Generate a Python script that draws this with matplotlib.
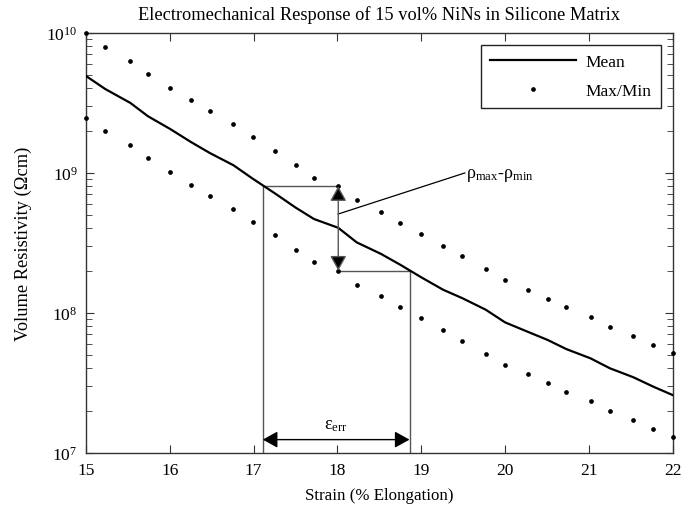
import matplotlib
matplotlib.use("Agg")
import matplotlib.pyplot as plt
from matplotlib.lines import Line2D
from matplotlib.ticker import LogLocator, NullLocator, FixedLocator, NullFormatter

plt.rcParams['font.family'] = ['Liberation Serif', 'DejaVu Serif']
plt.rcParams['mathtext.fontset'] = 'custom'
plt.rcParams['mathtext.rm'] = 'Liberation Serif'
plt.rcParams['mathtext.it'] = 'Liberation Serif:italic'
plt.rcParams['mathtext.bf'] = 'Liberation Serif:bold'

# ---- data ----
strain = [15.00, 15.23, 15.53, 15.74, 16.00, 16.25, 16.48, 16.76, 16.99, 17.26,
          17.50, 17.72, 18.01, 18.23, 18.52, 18.75, 19.00, 19.26, 19.49, 19.77,
          20.00, 20.27, 20.51, 20.73, 21.02, 21.25, 21.53, 21.77, 22.00]
rho_max = [9.9e9, 7.91e9, 6.31e9, 5.07e9, 4.05e9, 3.29e9, 2.75e9, 2.23e9, 1.79e9, 1.43e9,
           1.13e9, 9.21e8, 8.00e8, 6.35e8, 5.24e8, 4.37e8, 3.65e8, 3.01e8, 2.54e8, 2.04e8,
           1.70e8, 1.46e8, 1.26e8, 1.09e8, 9.31e7, 7.94e7, 6.85e7, 5.91e7, 5.18e7]
rho_min = [2.46e9, 1.98e9, 1.57e9, 1.27e9, 1.01e9, 8.20e8, 6.85e8, 5.53e8, 4.47e8, 3.57e8,
           2.82e8, 2.30e8, 2.00e8, 1.58e8, 1.32e8, 1.09e8, 9.12e7, 7.57e7, 6.33e7, 5.09e7,
           4.25e7, 3.63e7, 3.15e7, 2.73e7, 2.33e7, 1.99e7, 1.70e7, 1.48e7, 1.30e7]
rho_mean = [4.91e9, 3.96e9, 3.15e9, 2.53e9, 2.06e9, 1.66e9, 1.38e9, 1.13e9, 9.06e8, 7.08e8,
            5.64e8, 4.67e8, 4.04e8, 3.18e8, 2.63e8, 2.20e8, 1.79e8, 1.46e8, 1.27e8, 1.05e8,
            8.53e7, 7.31e7, 6.38e7, 5.50e7, 4.72e7, 4.01e7, 3.46e7, 2.96e7, 2.58e7]
x_ticks = [15, 16, 17, 18, 19, 20, 21, 22]

# annotation values
ref_idx = 12                 # strain = 18
eps_lo, eps_hi = 17.11, 18.86
eps_arrow_y = 1.24e7
eps_text_y = 1.58e7
rho_text_pos = (19.535, 9.3e8)
rho_line_start = 5.07e8
rho_line_end = (19.52, 9.96e8)

FS = 12.5
GRAY = '#555555'

fig = plt.figure(figsize=(6.95, 5.10), dpi=100)
ax = fig.add_axes([0.1237, 0.1104, 0.8442, 0.8235])

ax.plot(strain, rho_mean, color='black', lw=1.6, label='Mean', zorder=3)
ax.plot(strain, rho_max, 'o', color='black', ms=3.4, mec='none', zorder=3, clip_on=False)
ax.plot(strain, rho_min, 'o', color='black', ms=3.4, mec='none', zorder=3, clip_on=False)

ax.set_yscale('log')
ax.set_xlim(15, 22)
ax.set_ylim(1e7, 1e10)

# annotation lines
xs = strain[ref_idx]
ys_hi = rho_max[ref_idx]
ys_lo = rho_min[ref_idx]
ax.plot([eps_lo, xs], [ys_hi, ys_hi], color=GRAY, lw=1.0, zorder=2)
ax.plot([eps_lo, eps_lo], [ys_hi, 1e7], color=GRAY, lw=1.0, zorder=2)
ax.plot([xs, eps_hi], [ys_lo, ys_lo], color=GRAY, lw=1.0, zorder=2)
ax.plot([eps_hi, eps_hi], [ys_lo, 1e7], color=GRAY, lw=1.0, zorder=2)

arrow_style = '<|-|>,head_length=0.9,head_width=0.5'
ax.annotate('', xy=(xs, ys_lo), xytext=(xs, ys_hi),
            arrowprops=dict(arrowstyle=arrow_style, fc='black', ec=GRAY, lw=1.0,
                            shrinkA=0, shrinkB=0, mutation_scale=10), zorder=4)
ax.annotate('', xy=(eps_hi, eps_arrow_y), xytext=(eps_lo, eps_arrow_y),
            arrowprops=dict(arrowstyle=arrow_style, fc='black', ec='black', lw=1.0,
                            shrinkA=0, shrinkB=0, mutation_scale=10), zorder=4)
ax.text((eps_lo + eps_hi) / 2, eps_text_y, r'$\mathrm{ε_{err}}$', ha='center', va='center',
        fontsize=13)

ax.plot([xs, rho_line_end[0]], [rho_line_start, rho_line_end[1]], color='black', lw=0.9)
ax.text(rho_text_pos[0], rho_text_pos[1], r'$\mathrm{ρ_{max}}$-$\mathrm{ρ_{min}}$',
        ha='left', va='baseline', fontsize=13)

# ticks
ax.xaxis.set_major_locator(FixedLocator(x_ticks))
ax.xaxis.set_minor_locator(NullLocator())
ax.yaxis.set_major_locator(LogLocator(base=10, numticks=10))
ax.yaxis.set_minor_locator(LogLocator(base=10, subs=range(2, 10), numticks=50))
ax.yaxis.set_minor_formatter(NullFormatter())
ax.tick_params(which='both', direction='in', top=True, right=True, labelsize=FS,
               color='#333333')
ax.tick_params(axis='x', which='major', length=6, pad=7)
ax.tick_params(axis='y', which='major', length=6, pad=6)
ax.tick_params(axis='y', which='minor', length=4)
for sp in ax.spines.values():
    sp.set_color('#333333')
    sp.set_linewidth(1.0)

ax.set_xlabel('Strain (% Elongation)', fontsize=12.2, labelpad=6)
ax.set_ylabel('Volume Resistivity (Ωcm)', fontsize=13.2)
ax.yaxis.set_label_coords(-0.092, 0.5)
ax.set_title('Electromechanical Response of 15 vol% NiNs in Silicone Matrix',
             fontsize=13.2, pad=10)

handles = [Line2D([], [], color='black', lw=1.6),
           Line2D([], [], marker='o', ls='none', color='black', ms=3.4, mec='none')]
leg = ax.legend(handles, ['Mean', 'Max/Min'], loc='upper right', fontsize=FS,
                frameon=True, fancybox=False, framealpha=1, edgecolor='#222222',
                borderpad=0.5, handlelength=5.0, handletextpad=0.55,
                labelspacing=0.75, borderaxespad=0.7)
leg.get_frame().set_linewidth(1.0)

fig.savefig('out.png', dpi=100)
